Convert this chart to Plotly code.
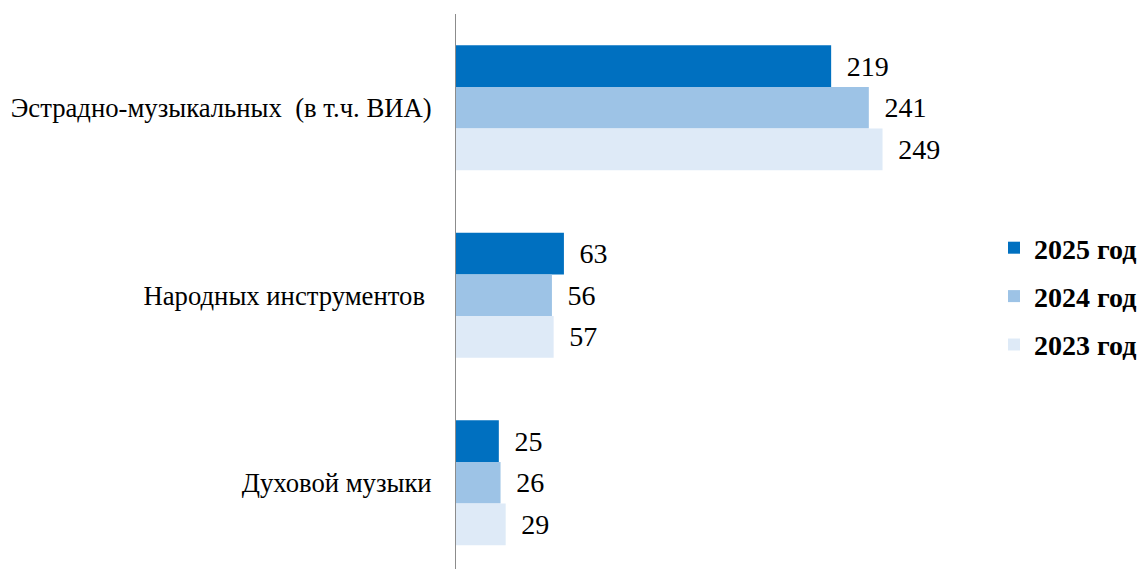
import plotly.graph_objects as go

categories = ["Эстрадно-музыкальных\u00a0\u00a0(в т.ч. ВИА)", "Народных инструментов\u00a0", "Духовой музыки"]
series_names = ["2025 год", "2024 год", "2023 год"]
values_2025 = [219, 63, 25]
values_2024 = [241, 56, 26]
values_2023 = [249, 57, 29]
colors = ["#0070C0", "#9DC3E6", "#DEEAF7"]

series_values = [values_2025, values_2024, values_2023]

# page body has an 8px margin, so figure coords = screen coords - 8
OFF = 8
W, H = 1146 - OFF, 569 - OFF
left, right_edge, top = 456 - OFF, 980 - OFF, 14 - OFF
plot_w = right_edge - left
px_per_unit = 1.713
x_max = plot_w / px_per_unit

font_family = "Liberation Serif"

fig = go.Figure()
for name, vals, col in zip(series_names, series_values, colors):
    fig.add_trace(go.Bar(
        y=categories, x=vals, name=name, orientation="h",
        marker=dict(color=col, line=dict(width=0)),
        text=["\u00a0\u2009" + str(v) for v in vals],
        textposition="outside",
        textfont=dict(family=font_family, size=28, color="#000000"),
        cliponaxis=False, legendgroup=name,
    ))

plot_h = H - top
y_bottom = -0.5 + plot_h / 187.5

fig.update_layout(
    width=W, height=H,
    margin=dict(l=left, r=W - right_edge, t=top, b=0, pad=0, autoexpand=False),
    paper_bgcolor="white", plot_bgcolor="white",
    barmode="group", bargap=0.333, bargroupgap=0,
    font=dict(family=font_family, size=26.7, color="#000000"),
    xaxis=dict(range=[0, x_max], visible=False, showgrid=False, zeroline=False, automargin=False),
    yaxis=dict(
        type="category", categoryorder="array", categoryarray=categories,
        range=[y_bottom, -0.5], automargin=False,
        showline=True, linecolor="#8C8C8C", linewidth=1,
        showgrid=False, zeroline=False,
        ticks="outside", ticklen=18, tickcolor="rgba(0,0,0,0)",
        tickfont=dict(family=font_family, size=26.7, color="#000000"),
    ),
    legend=dict(
        x=(986 - left) / plot_w, y=0.5 - 5 / plot_h,
        xanchor="left", yanchor="middle",
        font=dict(family=font_family, size=28, color="#000000", weight="bold"),
        tracegroupgap=9, bgcolor="rgba(0,0,0,0)", itemclick=False,
    ),
    showlegend=True,
)

fig.write_html("out.html")
